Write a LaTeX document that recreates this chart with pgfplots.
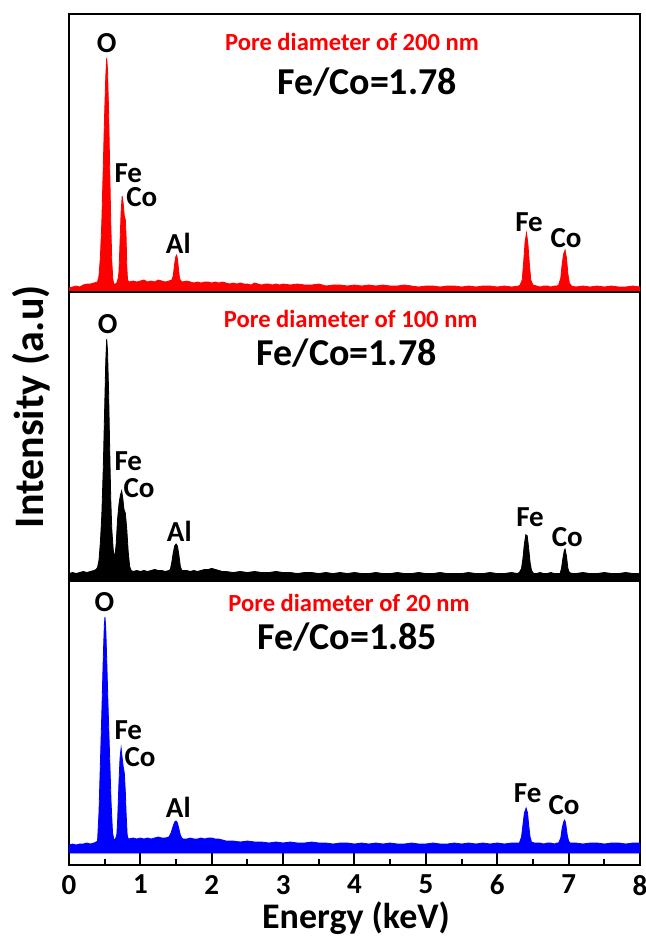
\documentclass[border=0pt]{standalone}
\usepackage{fontspec}
\setmainfont{Carlito}
\usepackage{pgfplots}
\pgfplotsset{compat=1.18}
\pgfplotsset{
  panel/.style={scale only axis, width=285.5pt, xmin=0, xmax=8, ytick=\empty, xtick=\empty,
    axis line style={line width=1.2pt}, clip=true},
}
\tikzset{
  lab/.style={font=\fontsize{14.5}{15}\selectfont\bfseries, inner sep=0pt},
  pore/.style={font=\fontsize{12.3}{13}\selectfont\bfseries, text=red, inner sep=0pt},
  ratio/.style={font=\fontsize{19}{20}\selectfont\bfseries, inner sep=0pt},
}
\begin{document}
\begin{tikzpicture}
\path[use as bounding box] (0,0) rectangle (323pt,-469pt);
% ---------- top panel: 200 nm ----------
\begin{axis}[panel, at={(34.5pt,-7pt)}, anchor=north west, height=139pt, ymin=0, ymax=278]
\addplot[draw=red, fill=red, line width=0.4pt] coordinates {
(0,4) (0.05,5) (0.1,6) (0.15,5) (0.2,7) (0.25,8) (0.3,8) (0.35,9)
(0.40,10) (0.42,16) (0.44,35) (0.46,70) (0.48,125) (0.50,180) (0.515,215) (0.528,234) (0.54,222) (0.555,180) (0.57,125) (0.585,70) (0.60,30) (0.615,12) (0.63,8) (0.65,8) (0.67,9) (0.69,14)
(0.70,20) (0.715,50) (0.73,80) (0.745,96) (0.76,88) (0.775,76) (0.79,72) (0.80,55) (0.81,25) (0.82,12) (0.84,10)
(0.9,11) (0.95,10) (1.0,11) (1.05,12) (1.1,10) (1.15,11) (1.2,10) (1.25,12) (1.3,11) (1.35,10) (1.4,11) (1.44,12)
(1.46,16) (1.48,28) (1.495,35) (1.508,37) (1.52,33) (1.535,22) (1.55,13) (1.58,10)
(1.65,11) (1.7,10) (1.75,9) (1.8,10) (1.85,9) (1.9,10) (1.95,10) (2.0,9) (2.05,10) (2.1,9) (2.15,10) (2.2,9) (2.25,8) (2.3,9) (2.35,8) (2.4,9) (2.45,8) (2.5,8) (2.55,7) (2.6,9) (2.65,8) (2.7,7) (2.75,8) (2.8,8) (2.85,7) (2.9,8) (2.95,7) (3.0,8)
(3.1,7) (3.2,8) (3.3,7) (3.4,7) (3.5,8) (3.6,6) (3.7,7) (3.8,7) (3.9,6) (4.0,7) (4.1,6) (4.2,7) (4.3,6) (4.4,7) (4.5,6) (4.6,6) (4.7,7) (4.8,6) (4.9,5) (5.0,6) (5.1,6) (5.2,5) (5.3,6) (5.4,6) (5.5,5) (5.6,6) (5.7,5) (5.8,6) (5.9,6) (6.0,5) (6.1,6) (6.2,5) (6.3,6)
(6.32,7) (6.35,12) (6.37,30) (6.39,50) (6.41,59) (6.43,48) (6.45,28) (6.47,12) (6.50,7)
(6.55,6) (6.6,5) (6.65,6) (6.7,6) (6.75,5) (6.8,6) (6.84,6)
(6.86,7) (6.89,14) (6.91,28) (6.93,38) (6.95,42) (6.97,34) (6.99,18) (7.01,9) (7.04,6)
(7.1,5) (7.2,6) (7.3,5) (7.4,6) (7.5,5) (7.6,6) (7.7,5) (7.8,5) (7.9,6) (8.0,5)
} \closedcycle;
\node[lab] at (axis cs:0.528,249) {O};
\node[lab] at (axis cs:0.831,119) {Fe};
\node[lab] at (axis cs:1.019,95) {Co};
\node[lab] at (axis cs:1.531,49) {Al};
\node[lab] at (axis cs:6.445,70) {Fe};
\node[lab] at (axis cs:6.963,54) {Co};
\node[pore] at (axis cs:3.965,250) {Pore diameter of 200 nm};
\node[ratio] at (axis cs:4.175,210) {Fe/Co=1.78};
\end{axis}
% ---------- middle panel: 100 nm ----------
\begin{axis}[panel, at={(34.5pt,-146pt)}, anchor=north west, height=141.5pt, ymin=0, ymax=283]
\addplot[draw=black, fill=black, line width=0.4pt] coordinates {
(0,7) (0.05,8) (0.1,7) (0.15,8) (0.2,9) (0.25,8) (0.3,9) (0.35,10)
(0.38,11) (0.40,13) (0.42,20) (0.44,38) (0.46,65) (0.48,110) (0.50,170) (0.515,215) (0.528,237) (0.54,225) (0.555,185) (0.57,130) (0.585,80) (0.60,50) (0.62,30) (0.64,22)
(0.66,35) (0.68,60) (0.70,75) (0.72,84) (0.738,88) (0.755,80) (0.77,70) (0.79,66) (0.81,50) (0.83,28) (0.85,14) (0.87,10)
(0.9,9) (0.95,10) (1.0,9) (1.05,10) (1.1,9) (1.15,10) (1.2,11) (1.25,10) (1.3,10) (1.35,9) (1.4,10)
(1.42,11) (1.44,18) (1.46,27) (1.48,34) (1.50,36) (1.52,34) (1.54,25) (1.56,14) (1.58,10)
(1.65,10) (1.7,9) (1.75,10) (1.8,9) (1.85,10) (1.9,11) (1.95,11) (2.0,12) (2.05,11) (2.1,10) (2.15,9) (2.2,9) (2.3,8) (2.4,9) (2.5,8) (2.6,9) (2.7,8) (2.8,8) (2.9,9) (3.0,8)
(3.1,8) (3.2,7) (3.3,8) (3.4,8) (3.5,7) (3.6,8) (3.7,7) (3.8,8) (3.9,7) (4.0,8) (4.1,7) (4.2,7) (4.3,8) (4.4,7) (4.5,7) (4.6,8) (4.7,7) (4.8,7) (4.9,8) (5.0,7) (5.1,7) (5.2,8) (5.3,7) (5.4,7) (5.5,7) (5.6,8) (5.7,7) (5.8,7) (5.9,8) (6.0,7) (6.1,7) (6.2,8) (6.28,7)
(6.31,8) (6.34,12) (6.36,22) (6.38,36) (6.40,45) (6.42,44) (6.44,32) (6.46,18) (6.48,10) (6.51,7)
(6.55,7) (6.6,8) (6.65,7) (6.7,7) (6.75,8) (6.8,7) (6.85,7)
(6.88,7) (6.90,12) (6.92,22) (6.94,30) (6.95,31) (6.97,24) (6.99,12) (7.01,8)
(7.05,7) (7.1,7) (7.2,8) (7.3,7) (7.4,7) (7.5,8) (7.6,7) (7.7,7) (7.8,8) (7.9,7) (8.0,7)
} \closedcycle;
\node[lab] at (axis cs:0.542,252) {O};
\node[lab] at (axis cs:0.831,117) {Fe};
\node[lab] at (axis cs:0.981,91) {Co};
\node[lab] at (axis cs:1.545,48) {Al};
\node[lab] at (axis cs:6.459,62) {Fe};
\node[lab] at (axis cs:6.981,43) {Co};
\node[pore] at (axis cs:3.947,257) {Pore diameter of 100 nm};
\node[ratio] at (axis cs:3.891,223) {Fe/Co=1.78};
\end{axis}
% ---------- bottom panel: 20 nm ----------
\begin{axis}[panel, at={(34.5pt,-287.5pt)}, anchor=north west, height=145pt, ymin=-12, ymax=278,
  xtick={0,1,...,8}, minor x tick num=1, xtick pos=left, tick align=inside,
  major tick length=6pt, minor tick length=3pt,
  every tick/.style={black, line width=1pt},
  /pgf/number format/assume math mode=true,
  xticklabel style={font=\fontsize{14.5}{15}\selectfont\bfseries, yshift=-1.5pt}]
\addplot[draw=blue, fill=blue, line width=0.4pt] coordinates {
(0,8) (0.05,9) (0.1,8) (0.15,9) (0.2,9) (0.25,10) (0.3,9) (0.35,10) (0.38,11)
(0.40,12) (0.42,40) (0.44,90) (0.46,140) (0.48,195) (0.495,228) (0.504,236) (0.515,225) (0.53,190) (0.55,140) (0.57,95) (0.59,50) (0.61,20) (0.63,13) (0.65,14)
(0.67,18) (0.68,30) (0.70,70) (0.715,95) (0.73,105) (0.745,95) (0.76,86) (0.775,80) (0.79,60) (0.80,40) (0.815,18) (0.83,14)
(0.9,15) (0.95,14) (1.0,15) (1.05,14) (1.1,15) (1.15,14) (1.2,15) (1.25,16) (1.3,15) (1.35,15)
(1.40,16) (1.43,20) (1.46,27) (1.48,31) (1.50,32) (1.52,30) (1.54,24) (1.56,18) (1.58,15) (1.60,14)
(1.65,14) (1.7,15) (1.75,14) (1.8,14) (1.85,15) (1.9,14) (1.95,15) (2.0,15) (2.05,14) (2.1,14) (2.15,13) (2.2,12) (2.3,12) (2.4,11) (2.5,12) (2.6,11) (2.7,11) (2.8,10) (2.9,11) (3.0,10)
(3.1,11) (3.2,10) (3.3,10) (3.4,11) (3.5,10) (3.6,10) (3.7,9) (3.8,10) (3.9,10) (4.0,9) (4.1,10) (4.2,9) (4.3,10) (4.4,9) (4.5,10) (4.6,9) (4.7,9) (4.8,10) (4.9,9) (5.0,9) (5.1,10) (5.2,9) (5.3,9) (5.4,10) (5.5,9) (5.6,10) (5.7,9) (5.8,10) (5.9,9) (6.0,10) (6.1,9) (6.2,10) (6.28,10)
(6.31,10) (6.34,16) (6.36,28) (6.38,40) (6.405,45) (6.425,40) (6.44,28) (6.46,16) (6.48,11)
(6.52,10) (6.6,10) (6.65,9) (6.7,10) (6.75,10) (6.8,9) (6.84,10)
(6.86,10) (6.89,15) (6.91,25) (6.93,31) (6.945,33) (6.96,29) (6.98,18) (7.00,12) (7.02,10)
(7.1,10) (7.2,9) (7.3,10) (7.4,10) (7.5,9) (7.6,10) (7.7,10) (7.8,9) (7.9,10) (8.0,10)
} \closedcycle;
\node[lab] at (axis cs:0.495,251) {O};
\node[lab] at (axis cs:0.831,123) {Fe};
\node[lab] at (axis cs:0.995,96) {Co};
\node[lab] at (axis cs:1.531,46) {Al};
\node[lab] at (axis cs:6.427,60) {Fe};
\node[lab] at (axis cs:6.935,48) {Co};
\node[pore] at (axis cs:3.923,250) {Pore diameter of 20 nm};
\node[ratio] at (axis cs:3.899,216) {Fe/Co=1.85};
\end{axis}
\node[rotate=90, font=\fontsize{21}{21}\selectfont\bfseries] at (15.85pt,-203.35pt) {Intensity (a.u)};
\node[font=\fontsize{18}{18}\selectfont\bfseries] at (178pt,-459pt) {Energy (keV)};
\end{tikzpicture}
\end{document}
